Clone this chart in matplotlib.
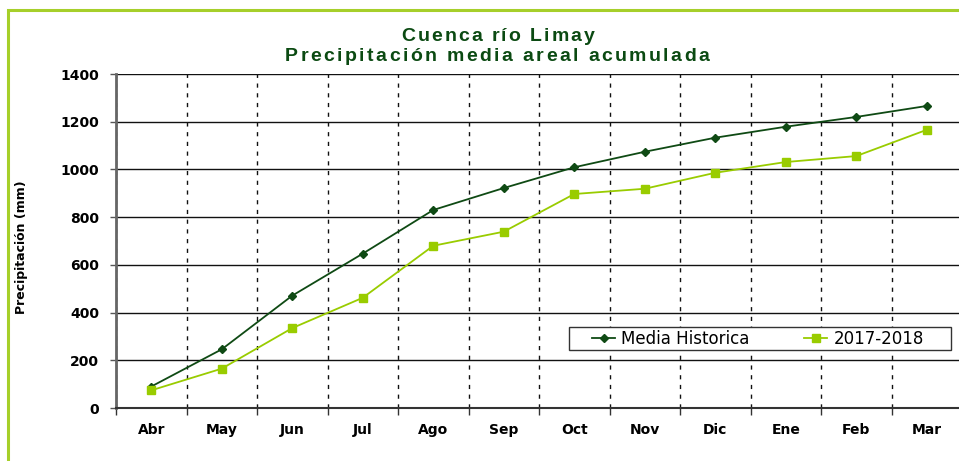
import numpy as np
import matplotlib.pyplot as plt
from matplotlib.patches import Rectangle
from matplotlib import font_manager
from matplotlib.ft2font import FT2Font

meses = ['Abr', 'May', 'Jun', 'Jul', 'Ago', 'Sep', 'Oct', 'Nov', 'Dic', 'Ene', 'Feb', 'Mar']
media_historica = [90, 246, 471, 647, 830, 922, 1009, 1074, 1133, 1179, 1220, 1266]
temporada_2017 = [74, 165, 335, 462, 680, 739, 897, 919, 986, 1031, 1056, 1166]

W, H = 959, 461
plt.rcParams['font.family'] = ['DejaVu Sans']

fig = plt.figure(figsize=(W / 100, H / 100), dpi=100)
ax = fig.add_axes([116 / W, 1 - 408 / H, 846 / W, 334 / H])


def texto_espaciado(xc, yb, s, size, track, color, family='Liberation Sans', weight='bold'):
    # texto centrado con espaciado entre letras (coordenadas en pixeles)
    prop = font_manager.FontProperties(family=family, weight=weight)
    font = FT2Font(font_manager.findfont(prop))
    font.set_size(size, 100)
    anchos = [font.load_char(ord(c)).linearHoriAdvance / 65536 for c in s]
    total = sum(anchos) + track * (len(s) - 1)
    x = xc - total / 2
    for c, a in zip(s, anchos):
        fig.text(x / W, 1 - yb / H, c, fontproperties=prop, fontsize=size,
                 color=color, ha='left', va='baseline')
        x += a + track


# marco verde exterior
fig.patches.append(Rectangle((8 / W, -0.1), 1.2, (H - 10) / H + 0.1,
                             transform=fig.transFigure, fill=False,
                             edgecolor='#a6cf2a', linewidth=2.2, clip_on=False))

x = np.arange(len(meses))
ax.plot(x, media_historica, color='#0f4a14', marker='D', markersize=4.5,
        linewidth=1.3, label='Media Historica', zorder=3)
ax.plot(x, temporada_2017, color='#99cc00', marker='s', markersize=5.5,
        linewidth=1.3, label='2017-2018', zorder=3)

ax.set_xlim(-0.5, len(meses) - 0.5)
ax.set_ylim(0, 1400)
ax.set_yticks(range(0, 1401, 200))
ax.set_xticks(x)
ax.set_xticklabels(meses, fontweight='bold', fontsize=10)
ax.set_xticks(np.arange(-0.5, len(meses), 1), minor=True)
ax.tick_params(axis='x', which='major', length=0, pad=11)
ax.tick_params(axis='x', which='minor', length=5, width=1, color='#333333', direction='out')
ax.tick_params(axis='y', length=4, width=1, color='#555555', labelsize=10, pad=8)
for lab in ax.get_yticklabels():
    lab.set_fontweight('bold')

ax.grid(axis='y', color='#111111', linewidth=1, linestyle='-')
ax.grid(axis='x', which='minor', color='#111111', linewidth=1, linestyle=(0, (3, 4)))
ax.set_axisbelow(True)

for s in ['top', 'right']:
    ax.spines[s].set_visible(False)
ax.spines['left'].set_color('#666666')
ax.spines['left'].set_linewidth(2)
ax.spines['bottom'].set_color('#333333')
ax.spines['bottom'].set_linewidth(1.5)

ax.set_ylabel('Precipitación (mm)', fontsize=9, fontweight='bold')
ax.yaxis.set_label_coords(-88 / 846, (408 - 247) / 334)

texto_espaciado(498, 41, 'Cuenca río Limay', 14, 2.0, '#0b4a12')
texto_espaciado(497, 61, 'Precipitación media areal acumulada', 14, 2.4, '#0b4a12')

leg = ax.legend(loc='center left', bbox_to_anchor=((592 - 116) / 846, (408 - 338.5) / 334),
                ncol=2, fontsize=12, frameon=False, borderpad=0, borderaxespad=0,
                columnspacing=3.3, handlelength=1.38, handletextpad=0.36)
ax.add_patch(Rectangle((569 / W, 1 - 350 / H), (951 - 569) / W, 23 / H,
                       transform=fig.transFigure, fill=True, facecolor='white',
                       edgecolor='#333333', linewidth=1, zorder=4))
leg.set_zorder(5)

fig.savefig('out.png', dpi=100)
